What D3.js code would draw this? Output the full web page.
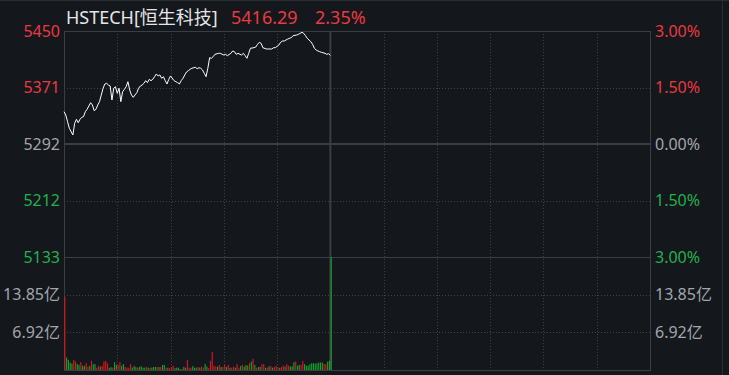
<!DOCTYPE html>
<html>
<head>
<meta charset="utf-8">
<script src="https://cdn.jsdelivr.net/npm/d3@7"></script>
<style>
html, body { margin: 0; padding: 0; background: #14171c; }
svg { display: block; }
text { font-family: "Noto Sans", "Noto Sans CJK SC", sans-serif; }
</style>
</head>
<body>
<div id="chart"></div>
<script>
const titleName = "HSTECH[恒生科技]"
const titlePrice = "5416.29"
const titlePct = "2.35%"
const prevClose = 5291.92
const priceLabels = ["5450", "5371", "5292", "5212", "5133"]
const pctLevels = [0.03, 0.015, 0, -0.015, -0.03]
const pctLabels = ["3.00%", "1.50%", "0.00%", "1.50%", "3.00%"]
const volTicks = [13.85, 6.92]
const volLabels = ["13.85亿", "6.92亿"]
const volMax = 20.77
const sessionMinutes = 330
const lunchMinute = 150
const gridMinutes = [30, 60, 90, 120, 180, 210, 240, 270, 300]

// minute since 9:30 and index level
const minutes = [0, 1, 2, 3, 5, 6, 7, 8, 9, 10, 11, 12, 13, 14, 15, 16, 17, 18, 19, 20,
  21, 22, 23, 24, 25, 26, 27, 28, 29, 30, 31, 32, 33, 34, 35, 36, 37, 38, 39, 40,
  41, 42, 43, 44, 45, 46, 47, 48, 49, 50, 51, 52, 53, 54, 55, 56, 57, 58, 59, 60,
  62, 63, 64, 65, 66, 67, 68, 69, 70, 71, 72, 74, 75, 76, 77, 78, 79, 80, 81, 82,
  83, 84, 85, 87, 88, 90, 91, 92, 94, 95, 96, 97, 98, 100, 101, 102, 103, 104, 105, 107,
  108, 109, 110, 111, 112, 114, 115, 117, 118, 119, 121, 122, 123, 124, 126, 127, 128, 129, 131, 132,
  133, 134, 135, 136, 137, 138, 139, 140, 141, 142, 143, 144, 145, 147, 148, 149, 150]
const prices = [5337.3, 5332.7, 5323.3, 5314.0, 5304.6, 5321.0, 5326.6, 5321.8, 5326.6, 5329.4,
  5330.3, 5337.3, 5340.7, 5345.3, 5349.9, 5346.7, 5338.7, 5340.7, 5346.7, 5351.4,
  5360.8, 5370.2, 5376.2, 5377.2, 5374.8, 5373.4, 5353.7, 5370.2, 5372.4, 5363.1,
  5370.2, 5351.4, 5365.4, 5368.8, 5372.4, 5379.4, 5367.8, 5360.8, 5357.5, 5360.8,
  5364.0, 5370.2, 5373.4, 5374.8, 5377.2, 5380.9, 5378.1, 5382.8, 5380.9, 5382.8,
  5386.5, 5390.3, 5387.5, 5388.9, 5384.2, 5386.5, 5380.9, 5376.2, 5382.8, 5387.5,
  5380.9, 5379.4, 5378.1, 5376.2, 5380.9, 5384.2, 5388.9, 5393.1, 5394.9, 5396.9,
  5398.3, 5399.7, 5397.7, 5399.1, 5398.3, 5395.9, 5391.2, 5386.5, 5398.3, 5413.2,
  5412.3, 5414.6, 5417.9, 5419.3, 5419.3, 5416.9, 5417.9, 5416.0, 5419.3, 5422.6,
  5421.6, 5417.9, 5419.3, 5416.9, 5419.3, 5416.0, 5412.3, 5419.3, 5426.4, 5427.2,
  5428.2, 5432.0, 5434.8, 5433.4, 5427.2, 5425.4, 5425.4, 5425.4, 5427.2, 5427.2,
  5431.0, 5434.8, 5436.6, 5436.6, 5439.4, 5440.4, 5441.3, 5444.1, 5445.0, 5446.0,
  5447.4, 5448.8, 5447.4, 5444.1, 5440.4, 5438.0, 5435.6, 5432.0, 5426.4, 5424.0,
  5422.6, 5421.6, 5420.7, 5419.3, 5417.9, 5418.8, 5416.29]

// turnover per minute, 亿
const vols = [13.5, 2.30, 1.87, 1.37, 1.18, 1.87, 1.55, 1.12, 0.94, 1.44,
  0.80, 0.75, 1.25, 0.62, 0.75, 1.68, 1.07, 1.07, 0.43, 0.80,
  0.62, 0.75, 1.55, 1.68, 1.25, 0.43, 0.50, 0.43, 1.44, 0.94,
  0.94, 1.44, 0.80, 1.07, 0.56, 0.43, 0.43, 1.07, 0.43, 0.75,
  0.56, 0.43, 0.56, 0.69, 0.43, 0.43, 0.56, 0.43, 0.43, 0.43,
  0.56, 0.56, 0.56, 0.56, 0.56, 0.94, 0.94, 0.43, 0.43, 0.32,
  0.56, 0.80, 0.32, 0.43, 0.43, 0.19, 0.19, 0.56, 0.43, 1.87,
  0.43, 0.43, 0.69, 0.43, 0.43, 0.56,
  0.43, 0.62, 0.43, 1.12, 0.62, 0.32, 1.68, 3.31, 0.80, 0.62,
  0.62, 0.94, 0.56, 0.56, 0.94, 0.56, 0.94, 0.43, 0.43, 0.62,
  0.43, 1.07, 0.43, 0.75, 0.94, 0.62, 0.94, 0.80, 1.25, 1.55,
  2.06, 0.94, 0.43, 0.56, 0.56, 1.07, 1.07, 0.43, 0.43, 0.69,
  0.69, 0.43, 0.56, 0.80, 0.43, 0.43, 0.56, 0.80, 0.62, 1.07,
  0.80, 0.62, 0.69, 1.44, 1.55, 0.80, 0.94, 0.94, 1.68, 1.07,
  0.80, 0.80, 1.07, 1.25, 1.25, 1.18, 1.25, 1.37, 1.37, 1.37,
  1.12, 1.12, 1.55, 1.68, 22.0]
const volDir = ("RGGGGRRGGR" + "GGRRGRGGRR" + "GRRRRGGRGG" + "RRGGRRRRGG" + "GRGGGGRGRG" +
  "GGRGRGGRGR" + "RRGGGRRGGR" + "RRGGGR" +
  "GRRGGRRRRR" + "GRGRRGRGRR" + "GRRGRGGGRG" + "RGRGGRRGRG" + "RGRRRGRRGR" +
  "RGGGRGGRRG" + "GGGGGGGGGG" + "RRGGG").split("")

const svgWidth = 729
const svgHeight = 375
const plotLeft = 64, plotRight = 650, plotTop = 31, plotMid = 257, plotBottom = 370

const red = "#ea3a40"
const green = "#22b14c"
const grey = "#a2a6ac"
const gridColor = "#3e4148"
const lineColor = "#3a3d43"

const svg = d3.select("#chart").append("svg")
    .attr("width", svgWidth)
    .attr("height", svgHeight)

svg.append("rect")
    .attr("width", svgWidth)
    .attr("height", svgHeight)
    .attr("fill", "#14171c")

const x = d3.scaleLinear().domain([0, sessionMinutes]).range([plotLeft, plotRight])
const y = d3.scaleLinear()
    .domain([prevClose * (1 - 0.03), prevClose * (1 + 0.03)])
    .range([plotMid, plotTop])
const yv = d3.scaleLinear().domain([0, volMax]).range([plotBottom, plotMid])

// window edges
svg.append("line")
    .attr("x1", 0).attr("x2", svgWidth).attr("y1", 0.5).attr("y2", 0.5)
    .attr("stroke", "#2a2d32")
svg.append("line")
    .attr("x1", 722.5).attr("x2", 722.5).attr("y1", 0).attr("y2", svgHeight)
    .attr("stroke", "#2a2d32")

const grid = svg.append("g")

grid.selectAll(".vgrid")
    .data(gridMinutes)
    .enter()
    .append("line")
    .attr("x1", d => Math.round(x(d)) + 0.5)
    .attr("x2", d => Math.round(x(d)) + 0.5)
    .attr("y1", plotTop)
    .attr("y2", plotBottom)
    .attr("stroke", gridColor)
    .attr("stroke-dasharray", "1,2")

grid.selectAll(".hgrid")
    .data(pctLevels.filter(p => Math.abs(p) == 0.015))
    .enter()
    .append("line")
    .attr("x1", plotLeft)
    .attr("x2", plotRight)
    .attr("y1", d => Math.round(y(prevClose * (1 + d))) + 0.5)
    .attr("y2", d => Math.round(y(prevClose * (1 + d))) + 0.5)
    .attr("stroke", gridColor)
    .attr("stroke-dasharray", "1,2")

grid.selectAll(".vgridv")
    .data(volTicks)
    .enter()
    .append("line")
    .attr("x1", plotLeft)
    .attr("x2", plotRight)
    .attr("y1", d => Math.round(yv(d)) + 0.5)
    .attr("y2", d => Math.round(yv(d)) + 0.5)
    .attr("stroke", gridColor)
    .attr("stroke-dasharray", "1,2")

// frame
svg.append("rect")
    .attr("x", plotLeft + 0.5)
    .attr("y", plotTop + 0.5)
    .attr("width", plotRight - plotLeft)
    .attr("height", plotBottom - plotTop)
    .attr("fill", "none")
    .attr("stroke", lineColor)
svg.append("line")
    .attr("x1", plotLeft).attr("x2", plotRight)
    .attr("y1", plotMid + 0.5).attr("y2", plotMid + 0.5)
    .attr("stroke", lineColor)
svg.append("line")
    .attr("x1", plotLeft).attr("x2", plotRight)
    .attr("y1", y(prevClose)).attr("y2", y(prevClose))
    .attr("stroke", lineColor)
    .attr("stroke-width", 2)
svg.append("line")
    .attr("x1", x(lunchMinute)).attr("x2", x(lunchMinute))
    .attr("y1", plotTop).attr("y2", plotBottom)
    .attr("stroke", lineColor)
    .attr("stroke-width", 2)

// volume bars
svg.append("g")
    .selectAll("rect")
    .data(vols)
    .enter()
    .append("rect")
    .attr("x", (d, i) => x(i) + 0.3)
    .attr("width", 1.1)
    .attr("y", d => yv(Math.min(d, volMax)))
    .attr("height", d => plotBottom - yv(Math.min(d, volMax)))
    .attr("fill", (d, i) => volDir[i] == "R" ? "#e0161e" : "#16a52c")

// price line
const pricePath = d3.line()
    .x((d, i) => x(minutes[i]))
    .y(d => y(d))

svg.append("path")
    .datum(prices)
    .attr("d", pricePath)
    .attr("fill", "none")
    .attr("stroke", "#ffffff")
    .attr("stroke-width", 1)

// axis labels
const labelColor = i => i < 2 ? red : (i == 2 ? grey : green)

svg.append("g")
    .selectAll("text")
    .data(priceLabels)
    .enter()
    .append("text")
    .attr("x", 60)
    .attr("y", (d, i) => y(prevClose * (1 + pctLevels[i])))
    .attr("dy", "0.36em")
    .attr("text-anchor", "end")
    .attr("font-size", 16)
    .attr("fill", (d, i) => labelColor(i))
    .text(d => d)

svg.append("g")
    .selectAll("text")
    .data(pctLabels)
    .enter()
    .append("text")
    .attr("x", 655)
    .attr("y", (d, i) => y(prevClose * (1 + pctLevels[i])))
    .attr("dy", "0.36em")
    .attr("font-size", 16)
    .attr("fill", (d, i) => labelColor(i))
    .text(d => d)

svg.append("g")
    .selectAll("text")
    .data(volLabels)
    .enter()
    .append("text")
    .attr("x", 60)
    .attr("y", (d, i) => yv(volTicks[i]))
    .attr("dy", "0.36em")
    .attr("text-anchor", "end")
    .attr("font-size", 16)
    .attr("fill", grey)
    .text(d => d)

svg.append("g")
    .selectAll("text")
    .data(volLabels)
    .enter()
    .append("text")
    .attr("x", 655)
    .attr("y", (d, i) => yv(volTicks[i]))
    .attr("dy", "0.36em")
    .attr("font-size", 16)
    .attr("fill", grey)
    .text(d => d)

// title
svg.append("text")
    .attr("x", 66).attr("y", 24)
    .attr("font-size", 18)
    .attr("fill", "#e4e6e9")
    .text(titleName)
svg.append("text")
    .attr("x", 231).attr("y", 24)
    .attr("font-size", 18)
    .attr("fill", red)
    .text(titlePrice)
svg.append("text")
    .attr("x", 315).attr("y", 24)
    .attr("font-size", 18)
    .attr("fill", red)
    .text(titlePct)
</script>
</body>
</html>
